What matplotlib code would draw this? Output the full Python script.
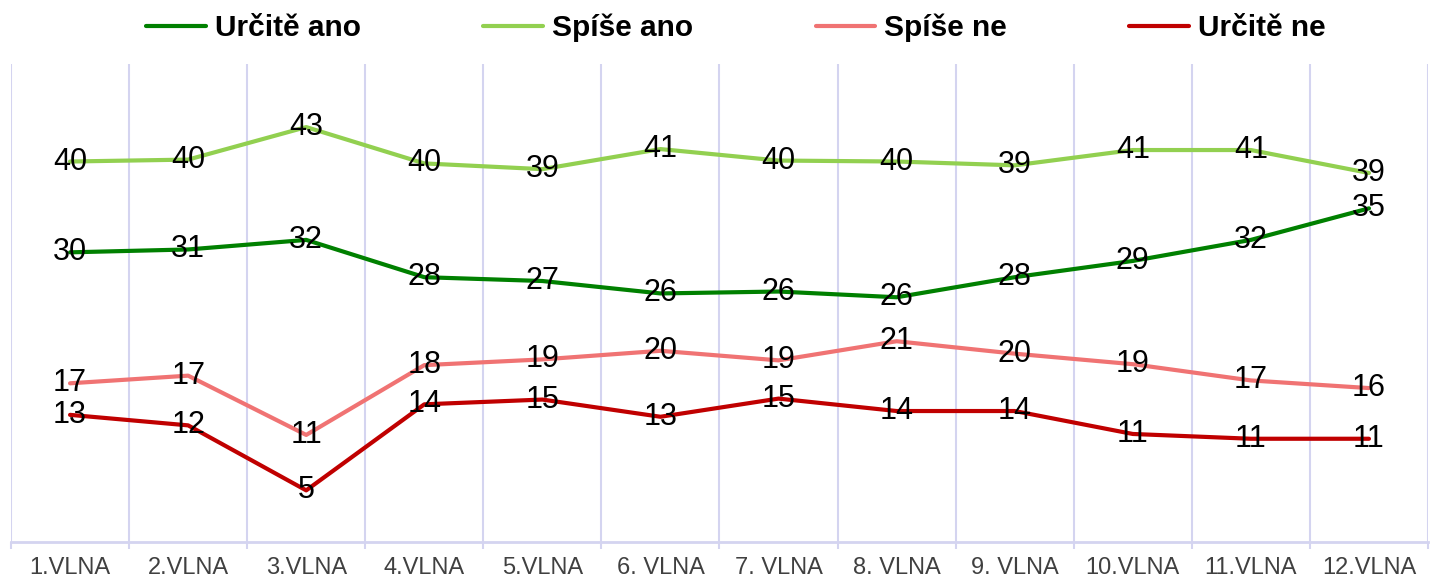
import numpy as np
import matplotlib
matplotlib.use("Agg")
import matplotlib.pyplot as plt

plt.rcParams['font.family'] = ['Liberation Sans', 'DejaVu Sans']

# waves
waves = ["1.VLNA", "2.VLNA", "3.VLNA", "4.VLNA", "5.VLNA", "6. VLNA",
         "7. VLNA", "8. VLNA", "9. VLNA", "10.VLNA", "11.VLNA", "12.VLNA"]

# series (% of respondents)
urcite_ano = [30.3, 30.6, 31.6, 27.7, 27.3, 26.0, 26.2, 25.6, 27.7, 29.4, 31.6, 34.9]
spise_ano = [39.8, 40.0, 43.4, 39.6, 39.0, 41.1, 39.9, 39.8, 39.4, 41.0, 41.0, 38.6]
spise_ne = [16.6, 17.4, 11.2, 18.5, 19.1, 20.0, 19.0, 21.0, 19.7, 18.6, 16.9, 16.1]
urcite_ne = [13.3, 12.2, 5.4, 14.4, 14.9, 13.1, 15.0, 13.7, 13.7, 11.3, 10.8, 10.8]

series = [
    ("Určitě ano", urcite_ano, "#008000"),
    ("Spíše ano", spise_ano, "#92D050"),
    ("Spíše ne", spise_ne, "#F07373"),
    ("Určitě ne", urcite_ne, "#C00000"),
]

grid_col = "#D4D4F0"

fig = plt.figure(figsize=(14.39, 5.80), dpi=100)
ax = fig.add_axes([11 / 1439, 38 / 580, 1417 / 1439, 478 / 580])

x = np.arange(len(waves))

# vertical lines at category boundaries
for b in np.arange(-0.5, len(waves), 1.0):
    ax.axvline(b, color=grid_col, lw=1.5, zorder=0)

for name, vals, col in series:
    ax.plot(x, vals, color=col, lw=3, label=name, solid_capstyle='round',
            solid_joinstyle='round', zorder=2)
    for xi, v in zip(x, vals):
        ax.text(xi, v, f"{v:.0f}", ha='center', va='center', fontsize=22,
                color='black', zorder=3)

ax.set_xlim(-0.5, len(waves) - 0.5)
ax.set_ylim(0, 50)

for s in ['top', 'right', 'left']:
    ax.spines[s].set_visible(False)
ax.spines['bottom'].set_color(grid_col)
ax.spines['bottom'].set_linewidth(2)

ax.set_yticks([])
ax.set_xticks(np.arange(-0.5, len(waves), 1.0), minor=False)
ax.set_xticklabels([])
ax.tick_params(axis='x', which='major', length=5, width=1.5, color=grid_col)
ax.set_xticks(x, minor=True)
ax.set_xticklabels(waves, minor=True, fontsize=17, color='#404040')
ax.tick_params(axis='x', which='minor', length=0, pad=11)

fig.legend(loc='center', bbox_to_anchor=(0.5115, 0.952), ncol=4, frameon=False,
           prop={'weight': 'bold', 'size': 21.5}, handlelength=2.0,
           handletextpad=0.3, columnspacing=4.1)

fig.savefig("out.png", dpi=100)
